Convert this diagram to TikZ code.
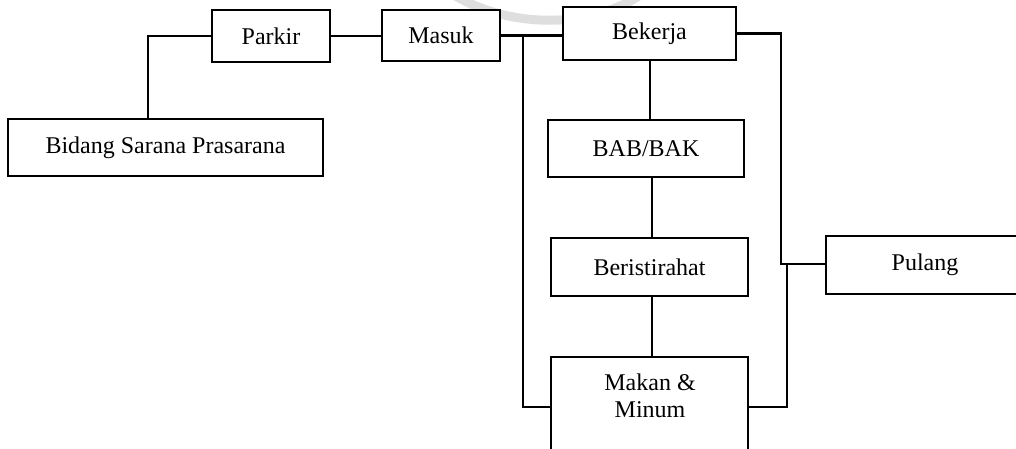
\documentclass[tikz,border=0pt]{standalone}
\usepackage{fontspec}
\setmainfont{Liberation Serif}
\begin{document}
\begin{tikzpicture}[x=1pt,y=-1pt,
  box/.style={draw, fill=white, line width=1.6pt, inner sep=0pt, outer sep=0pt,
              align=center, font=\fontsize{24}{27.5}\selectfont},
  link/.style={line width=2.2pt},
  logoarc/.style={draw=black!13, line width=9pt}]
\useasboundingbox (0,0) rectangle (1016,449);
\clip (0,0) rectangle (1016,449);

% faint logo arc along the top edge
\draw[logoarc] (452,-6) .. controls (510,29) and (590,29) .. (642,-6);

% boxes
\node[box, minimum width=118, minimum height=52] (parkir) at (271,36) {Parkir};
\node[box, minimum width=118, minimum height=51] (masuk) at (441,35.5) {Masuk};
\node[box, minimum width=315, minimum height=57] (bidang) at (165.5,147.5) {Bidang Sarana Prasarana};
\node[box, minimum width=173, minimum height=53] (bekerja) at (649.5,33.5) {Bekerja};
\node[box, minimum width=196, minimum height=57] (babbak) at (646,148.5) {BAB/BAK};
\node[box, minimum width=197, minimum height=58] (istirahat) at (649.5,267) {Beristirahat};
\node[box, minimum width=197, minimum height=120, anchor=north] (makan) at (649.5,357) {};
\node[align=center, inner sep=0pt, font=\fontsize{24}{27.5}\selectfont] (makantext) at (650,396) {Makan \&\\Minum};
\node[box, minimum width=198, minimum height=58] (pulang) at (925,265) {Pulang};

% junction points
\coordinate (jl) at (523,35);
\coordinate (jlb) at (551,407);
\coordinate (jr) at (781,264);
\coordinate (jrb) at (748,407);
\coordinate (jm) at (787,264);

% connectors
\draw[link] ([xshift=-17.5pt]bidang.north) |- (parkir.west);
\draw[link] (parkir.east) -- (parkir.east -| masuk.west);
\draw[link] (masuk.east) -- (masuk.east -| bekerja.west);
\draw[link] (jl) |- (jlb);
\draw[link] (bekerja.east) -| (jr) -- (jr -| pulang.west);
\draw[link] (jrb) -| (jm);
\draw[link] ([xshift=0.5pt]bekerja.south) -- ([xshift=0.5pt]bekerja.south |- babbak.north);
\draw[link] ([xshift=6pt]babbak.south) -- ([xshift=6pt]babbak.south |- istirahat.north);
\draw[link] ([xshift=2.5pt]istirahat.south) -- ([xshift=2.5pt]istirahat.south |- makan.north);
\end{tikzpicture}
\end{document}
